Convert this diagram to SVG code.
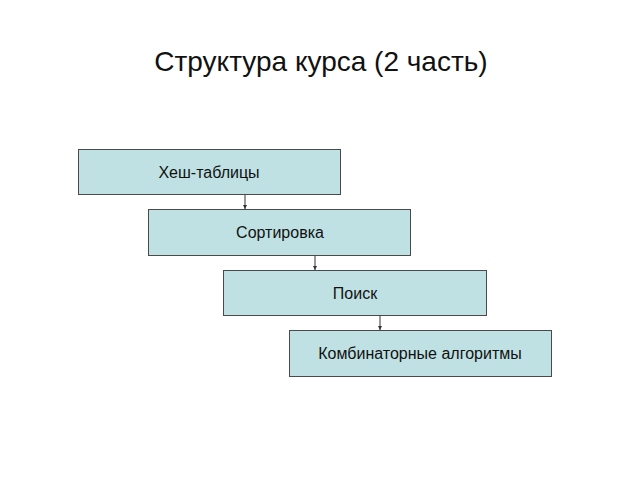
<svg xmlns="http://www.w3.org/2000/svg" width="640" height="480" viewBox="0 0 640 480">
<style>
.box{fill:#bfe1e3;stroke:#4a4a4a;stroke-width:1}
.lbl{font-family:"Liberation Sans",Arial,sans-serif;font-size:16px;fill:#111;text-anchor:middle}
.title{font-family:"Liberation Sans",Arial,sans-serif;font-size:28px;fill:#111;text-anchor:middle}
.conn{stroke:#333;stroke-width:1;fill:none;marker-end:url(#ah)}
</style>
<defs>
<marker id="ah" viewBox="0 0 6 6" refX="6" refY="3" markerWidth="4" markerHeight="4" orient="auto" markerUnits="userSpaceOnUse">
<path d="M0,0 L6,3 L0,6 z" fill="#333"/>
</marker>
</defs>
<rect width="640" height="480" fill="#fff"/>
<text class="title" x="321" y="71">Структура курса (2 часть)</text>
<g id="connectors">
<line class="conn" x1="245" y1="194.5" x2="245" y2="209"/>
<line class="conn" x1="315" y1="255.5" x2="315" y2="270"/>
<line class="conn" x1="380" y1="315.5" x2="380" y2="330"/>
</g>
<g id="node1"><rect class="box" x="78.5" y="149.5" width="262" height="45"/><text class="lbl" x="209" y="178">Хеш-таблицы</text></g>
<g id="node2"><rect class="box" x="148.5" y="209.5" width="262" height="46"/><text class="lbl" x="280" y="238">Сортировка</text></g>
<g id="node3"><rect class="box" x="223.5" y="270.5" width="263" height="45"/><text class="lbl" x="355" y="299">Поиск</text></g>
<g id="node4"><rect class="box" x="289.5" y="330.5" width="262" height="46"/><text class="lbl" x="420" y="359">Комбинаторные алгоритмы</text></g>
</svg>
